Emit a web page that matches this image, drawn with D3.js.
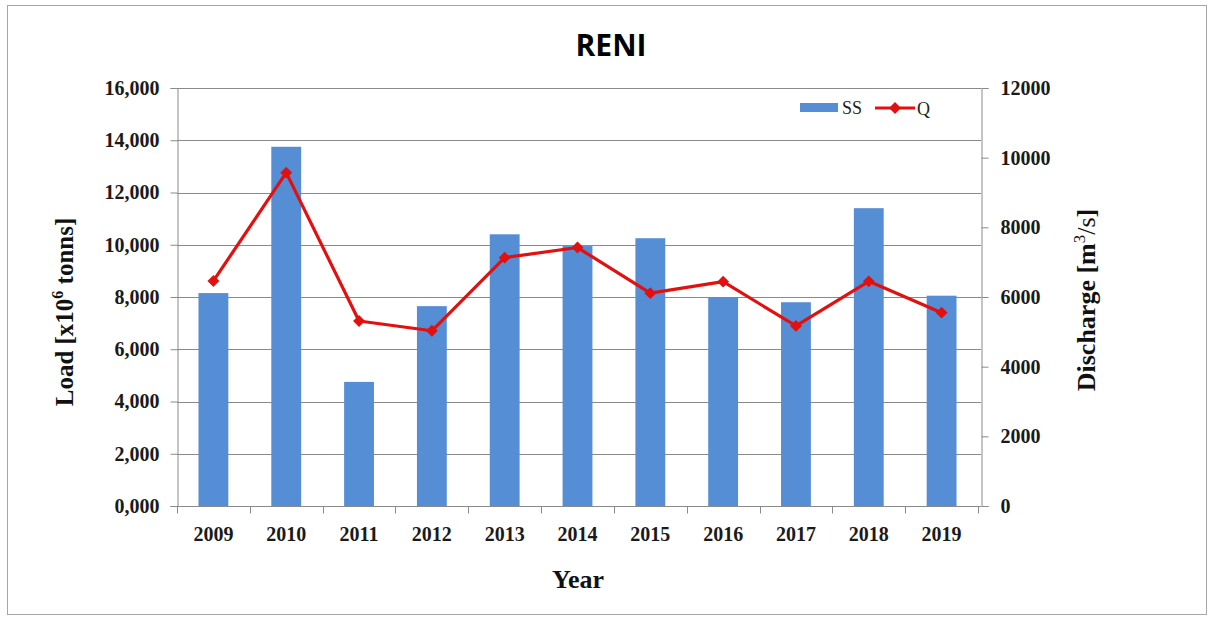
<!DOCTYPE html>
<html><head><meta charset="utf-8">
<script src="https://cdn.jsdelivr.net/npm/d3@7"></script>
<style>body{margin:0;background:#fff;} svg{display:block;}</style>
</head><body>
<script>
const years = ["2009","2010","2011","2012","2013","2014","2015","2016","2017","2018","2019"];
const ssLoad = [8150, 13750, 4750, 7650, 10400, 9950, 10250, 8000, 7800, 11400, 8050];
const qDischarge = [6460, 9570, 5310, 5030, 7130, 7420, 6110, 6440, 5170, 6450, 5550];
const leftTicks = [0, 2000, 4000, 6000, 8000, 10000, 12000, 14000, 16000];
const rightTicks = [0, 2000, 4000, 6000, 8000, 10000, 12000];

const W = 1214, H = 619;
const m = {l:177, r:978, t:88, b:506};
const svg = d3.select("body").append("svg").attr("width", W).attr("height", H);
svg.append("rect").attr("x",7.5).attr("y",5.5).attr("width",1199).attr("height",609)
  .attr("fill","#fff").attr("stroke","#a6a6a6").attr("stroke-width",1);

const x = d3.scaleBand().domain(years).range([m.l, m.r]).paddingInner(0.59).paddingOuter(0.295);
const xb = d3.scaleBand().domain(years).range([m.l, m.r]);
const yL = d3.scaleLinear().domain([0,16000]).range([m.b, m.t]);
const yR = d3.scaleLinear().domain([0,12000]).range([m.b, m.t]);

const serif = "'Liberation Serif', 'DejaVu Serif', serif";

// gridlines
svg.append("g").selectAll("line").data(leftTicks.slice(1)).join("line")
  .attr("x1", m.l).attr("x2", m.r+3).attr("y1", d=>Math.round(yL(d))+0.5).attr("y2", d=>Math.round(yL(d))+0.5)
  .attr("stroke","#8a8a8a").attr("stroke-width",1);

// bars
svg.append("g").selectAll("rect").data(years).join("rect")
  .attr("x", d=>x(d)).attr("width", x.bandwidth())
  .attr("y", (d,i)=>yL(ssLoad[i])).attr("height", (d,i)=>m.b - yL(ssLoad[i]))
  .attr("fill","#558ed5");

// left axis
const gL = svg.append("g").attr("transform",`translate(${m.l+0.5},0)`)
  .call(d3.axisLeft(yL).tickValues(leftTicks).tickSize(7).tickPadding(11)
    .tickFormat(d=> d===0 ? "0,000" : d3.format(",")(d)));
// right axis
const gR = svg.append("g").attr("transform",`translate(${m.r+3.5},0)`)
  .call(d3.axisRight(yR).tickValues(rightTicks).tickSize(7).tickPadding(12).tickFormat(d3.format("d")));
// bottom axis
const gB = svg.append("g").attr("transform",`translate(0,${m.b+0.5})`)
  .call(d3.axisBottom(xb).tickSize(0).tickPadding(22));
gB.select(".domain").attr("d",`M${m.l},0H${m.r+3}`);
gB.append("g").selectAll("line").data(years.concat(["end"])).join("line")
  .attr("x1",(d,i)=>Math.round(m.l + i*xb.step())+0.5).attr("x2",(d,i)=>Math.round(m.l + i*xb.step())+0.5)
  .attr("y1",0).attr("y2",7).attr("stroke","#8a8a8a");

[gL,gR,gB].forEach(g=>{
  g.selectAll(".domain").attr("stroke","#8a8a8a");
  g.selectAll(".tick line").attr("stroke","#8a8a8a");
  g.selectAll("text").attr("font-family",serif).attr("font-weight","bold").attr("font-size",20).attr("fill","#1a1a1a");
});
gB.selectAll("text").attr("font-size",20).attr("dy","0.6em");

// line
const line = d3.line().x((d,i)=>xb(years[i])+xb.bandwidth()/2).y(d=>yR(d));
svg.append("path").datum(qDischarge).attr("d",line).attr("fill","none")
  .attr("stroke","#e31010").attr("stroke-width",3.2).attr("stroke-linejoin","round");
const diamond = d3.symbol().type(d3.symbolDiamond2).size(90);
svg.append("g").selectAll("path").data(qDischarge).join("path")
  .attr("transform",(d,i)=>`translate(${xb(years[i])+xb.bandwidth()/2},${yR(d)})`)
  .attr("d",diamond).attr("fill","#e31010");

// title
svg.append("text").attr("x",611).attr("y",56).attr("text-anchor","middle")
  .attr("font-family","'Open Sans','Liberation Sans',sans-serif").attr("font-weight","bold").attr("font-size",30).text("RENI");

// axis titles
const lt = svg.append("text").attr("transform","translate(73,312) rotate(-90)").attr("text-anchor","middle")
  .attr("font-family",serif).attr("font-weight","bold").attr("font-size",25).attr("fill","#111");
lt.append("tspan").text("Load [x10");
lt.append("tspan").attr("font-size",16).attr("dy",-10).text("6");
lt.append("tspan").attr("dy",10).text(" tonns]");
const rt = svg.append("text").attr("transform","translate(1095,300) rotate(-90)").attr("text-anchor","middle")
  .attr("font-family",serif).attr("font-weight","bold").attr("font-size",26).attr("fill","#111");
rt.append("tspan").text("Discharge [m");
rt.append("tspan").attr("font-size",17).attr("dy",-10).attr("font-weight","normal").text("3");
rt.append("tspan").attr("dy",10).attr("font-weight","normal").text("/s");
rt.append("tspan").text("]");
svg.append("text").attr("x",578).attr("y",588).attr("text-anchor","middle")
  .attr("font-family",serif).attr("font-weight","bold").attr("font-size",26).attr("fill","#111").text("Year");

// legend
svg.append("rect").attr("x",800).attr("y",103).attr("width",38).attr("height",9).attr("fill","#558ed5");
svg.append("text").attr("x",842).attr("y",114).attr("font-family",serif).attr("font-size",18).attr("fill","#222").text("SS");
svg.append("line").attr("x1",875).attr("x2",915).attr("y1",108).attr("y2",108).attr("stroke","#e31010").attr("stroke-width",3);
svg.append("path").attr("transform","translate(895,108)").attr("d",diamond).attr("fill","#e31010");
svg.append("text").attr("x",917).attr("y",115).attr("font-family",serif).attr("font-size",18).attr("fill","#222").text("Q");
</script>
</body></html>
